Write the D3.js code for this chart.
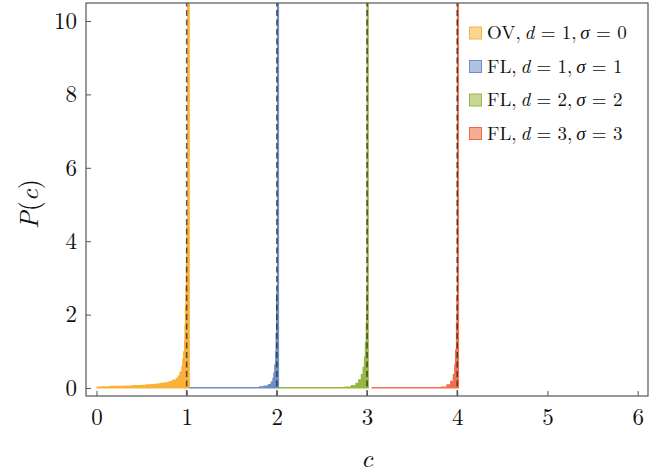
<!DOCTYPE html>
<html>
<head>
<meta charset="utf-8">
<script src="https://cdn.jsdelivr.net/npm/d3@7"></script>
<style>
  body { margin: 0; background: #fff; }
  svg { display: block; }
  text { font-family: "Latin Modern Roman", "Liberation Serif", serif; }
</style>
</head>
<body>
<div id="chart"></div>
<script>
// Tick values
const xTicks = [0, 1, 2, 3, 4, 5, 6];
const yTicks = [0, 2, 4, 6, 8, 10];

// Histogram bins: edges and heights for each series
const ovEdges = [0, 0.05, 0.1, 0.15, 0.2, 0.25, 0.3, 0.35, 0.4, 0.45, 0.5, 0.55, 0.6, 0.65, 0.7, 0.75, 0.8,
  0.84, 0.88, 0.9, 0.92, 0.94, 0.95, 0.96, 0.97, 0.975, 0.98, 0.985, 0.99, 0.995, 1.005, 1.035];
const ovHeights = [0.04, 0.05, 0.05, 0.06, 0.06, 0.06, 0.07, 0.07, 0.08, 0.08, 0.09, 0.10, 0.11, 0.12, 0.14, 0.16,
  0.19, 0.23, 0.28, 0.34, 0.45, 0.6, 0.8, 1.0, 1.3, 1.7, 2.2, 2.8, 3.4, 4.5, 40];

const fl1Edges = [1.03, 1.2, 1.4, 1.6, 1.7, 1.8, 1.85, 1.9, 1.93, 1.95, 1.96, 1.97, 1.98, 1.985, 1.99, 2.0, 2.025];
const fl1Heights = [0.01, 0.012, 0.015, 0.02, 0.03, 0.045, 0.07, 0.11, 0.18, 0.28, 0.42, 0.65, 1.0, 1.5, 2.6, 30];

const fl2Edges = [2.02, 2.3, 2.6, 2.75, 2.82, 2.87, 2.9, 2.93, 2.95, 2.965, 2.975, 2.985, 2.99, 2.995, 3.02];
const fl2Heights = [0.005, 0.01, 0.02, 0.04, 0.08, 0.14, 0.24, 0.38, 0.58, 0.85, 1.25, 1.8, 2.6, 30];

const fl3Edges = [3.05, 3.4, 3.7, 3.82, 3.88, 3.92, 3.95, 3.965, 3.975, 3.985, 3.99, 3.995, 4.02];
const fl3Heights = [0.003, 0.006, 0.015, 0.04, 0.1, 0.2, 0.38, 0.65, 1.05, 1.8, 2.5, 30];

// Dashed reference lines
const refLines = [1, 2, 3, 4];

const seriesNames = ["OV", "FL", "FL", "FL"];
const seriesD = [1, 1, 2, 3];
const seriesSigma = [0, 1, 2, 3];
const seriesColors = ["#F8B23A", "#6E8FC5", "#97B743", "#EE6A42"];

function drawChart() {
    const width = 662;
    const height = 474;
    const margin = { left: 86, right: 14, top: 3, bottom: 78 };

    const svg = d3.select("#chart")
        .append("svg")
        .attr("width", width)
        .attr("height", height);

    const x = d3.scaleLinear()
        .domain([-0.116, 6.115])
        .range([margin.left, width - margin.right]);

    const y = d3.scaleLinear()
        .domain([-0.218, 10.49])
        .range([height - margin.bottom, margin.top]);

    svg.append("defs").append("clipPath")
        .attr("id", "plot-clip")
        .append("rect")
        .attr("x", margin.left)
        .attr("y", margin.top)
        .attr("width", width - margin.left - margin.right)
        .attr("height", height - margin.top - margin.bottom);

    const plot = svg.append("g").attr("clip-path", "url(#plot-clip)");

    // Histograms as step areas (avoids seams between bars)
    const series = [
        { edges: ovEdges, heights: ovHeights },
        { edges: fl1Edges, heights: fl1Heights },
        { edges: fl2Edges, heights: fl2Heights },
        { edges: fl3Edges, heights: fl3Heights }
    ];

    const area = d3.area()
        .curve(d3.curveStepAfter)
        .x(d => x(d.c))
        .y0(y(0) + 0.6)
        .y1(d => Math.min(y(d.h), y(0) - 0.9));

    series.forEach((s, i) => {
        const pts = s.edges.map((c, j) => ({ c: c, h: j < s.heights.length ? s.heights[j] : s.heights[j - 1] }));
        plot.append("path")
            .datum(pts)
            .attr("d", area)
            .attr("fill", seriesColors[i])
            .attr("fill-opacity", i === 3 ? 0.95 : 1);
    });

    // Dashed reference lines
    plot.append("g")
        .selectAll("line")
        .data(refLines)
        .join("line")
        .attr("x1", d => x(d))
        .attr("x2", d => x(d))
        .attr("y1", y.range()[0])
        .attr("y2", y.range()[1])
        .attr("stroke", "#1a1a1a")
        .attr("stroke-opacity", 0.7)
        .attr("stroke-width", 1.5)
        .attr("stroke-dasharray", "6,3.5");

    // Frame
    svg.append("rect")
        .attr("x", margin.left)
        .attr("y", margin.top)
        .attr("width", width - margin.left - margin.right)
        .attr("height", height - margin.top - margin.bottom)
        .attr("fill", "none")
        .attr("stroke", "#555")
        .attr("stroke-width", 1.2);

    // Axes with inward ticks
    const xAxis = d3.axisBottom(x).tickValues(xTicks).tickSize(-5).tickPadding(13).tickFormat(d3.format("d"));
    const yAxis = d3.axisLeft(y).tickValues(yTicks).tickSize(-5).tickPadding(9).tickFormat(d3.format("d"));

    const gx = svg.append("g")
        .attr("transform", `translate(0,${height - margin.bottom})`)
        .call(xAxis);
    const gy = svg.append("g")
        .attr("transform", `translate(${margin.left},0)`)
        .call(yAxis);

    [gx, gy].forEach(g => {
        g.attr("font-family", null);
        g.select(".domain").remove();
        g.selectAll(".tick line").attr("stroke", "#555").attr("stroke-width", 1);
        g.selectAll(".tick text")
            .attr("font-size", "23px")
            .attr("fill", "#111");
    });

    // Axis labels
    svg.append("text")
        .attr("x", x(3))
        .attr("y", 467)
        .attr("text-anchor", "middle")
        .attr("font-style", "italic")
        .attr("font-size", "26px")
        .attr("fill", "#111")
        .text("c");

    const yl = svg.append("text")
        .attr("transform", "translate(38,204) rotate(-90)")
        .attr("text-anchor", "middle")
        .attr("font-size", "26px")
        .attr("fill", "#111");
    yl.append("tspan").attr("font-style", "italic").text("P");
    yl.append("tspan").text("(");
    yl.append("tspan").attr("font-style", "italic").text("c");
    yl.append("tspan").text(")");

    // Legend
    const legend = svg.append("g");
    seriesNames.forEach((name, i) => {
        const cy = 33 + i * 33.5;
        legend.append("rect")
            .attr("x", 469.5)
            .attr("y", cy - 6)
            .attr("width", 12)
            .attr("height", 12)
            .attr("fill", seriesColors[i])
            .attr("fill-opacity", 0.55)
            .attr("stroke", seriesColors[i])
            .attr("stroke-width", 1);

        const t = legend.append("text")
            .attr("x", 487)
            .attr("y", cy + 6)
            .attr("font-size", "19px")
            .attr("fill", "#111");
        t.append("tspan").text(name + ",\u2009");
        t.append("tspan").attr("font-style", "italic").text("d");
        t.append("tspan").text(" = " + seriesD[i] + ",\u2009");
        t.append("tspan").attr("font-style", "italic").text("σ");
        t.append("tspan").text(" = " + seriesSigma[i]);
    });
}

drawChart();
</script>
</body>
</html>
